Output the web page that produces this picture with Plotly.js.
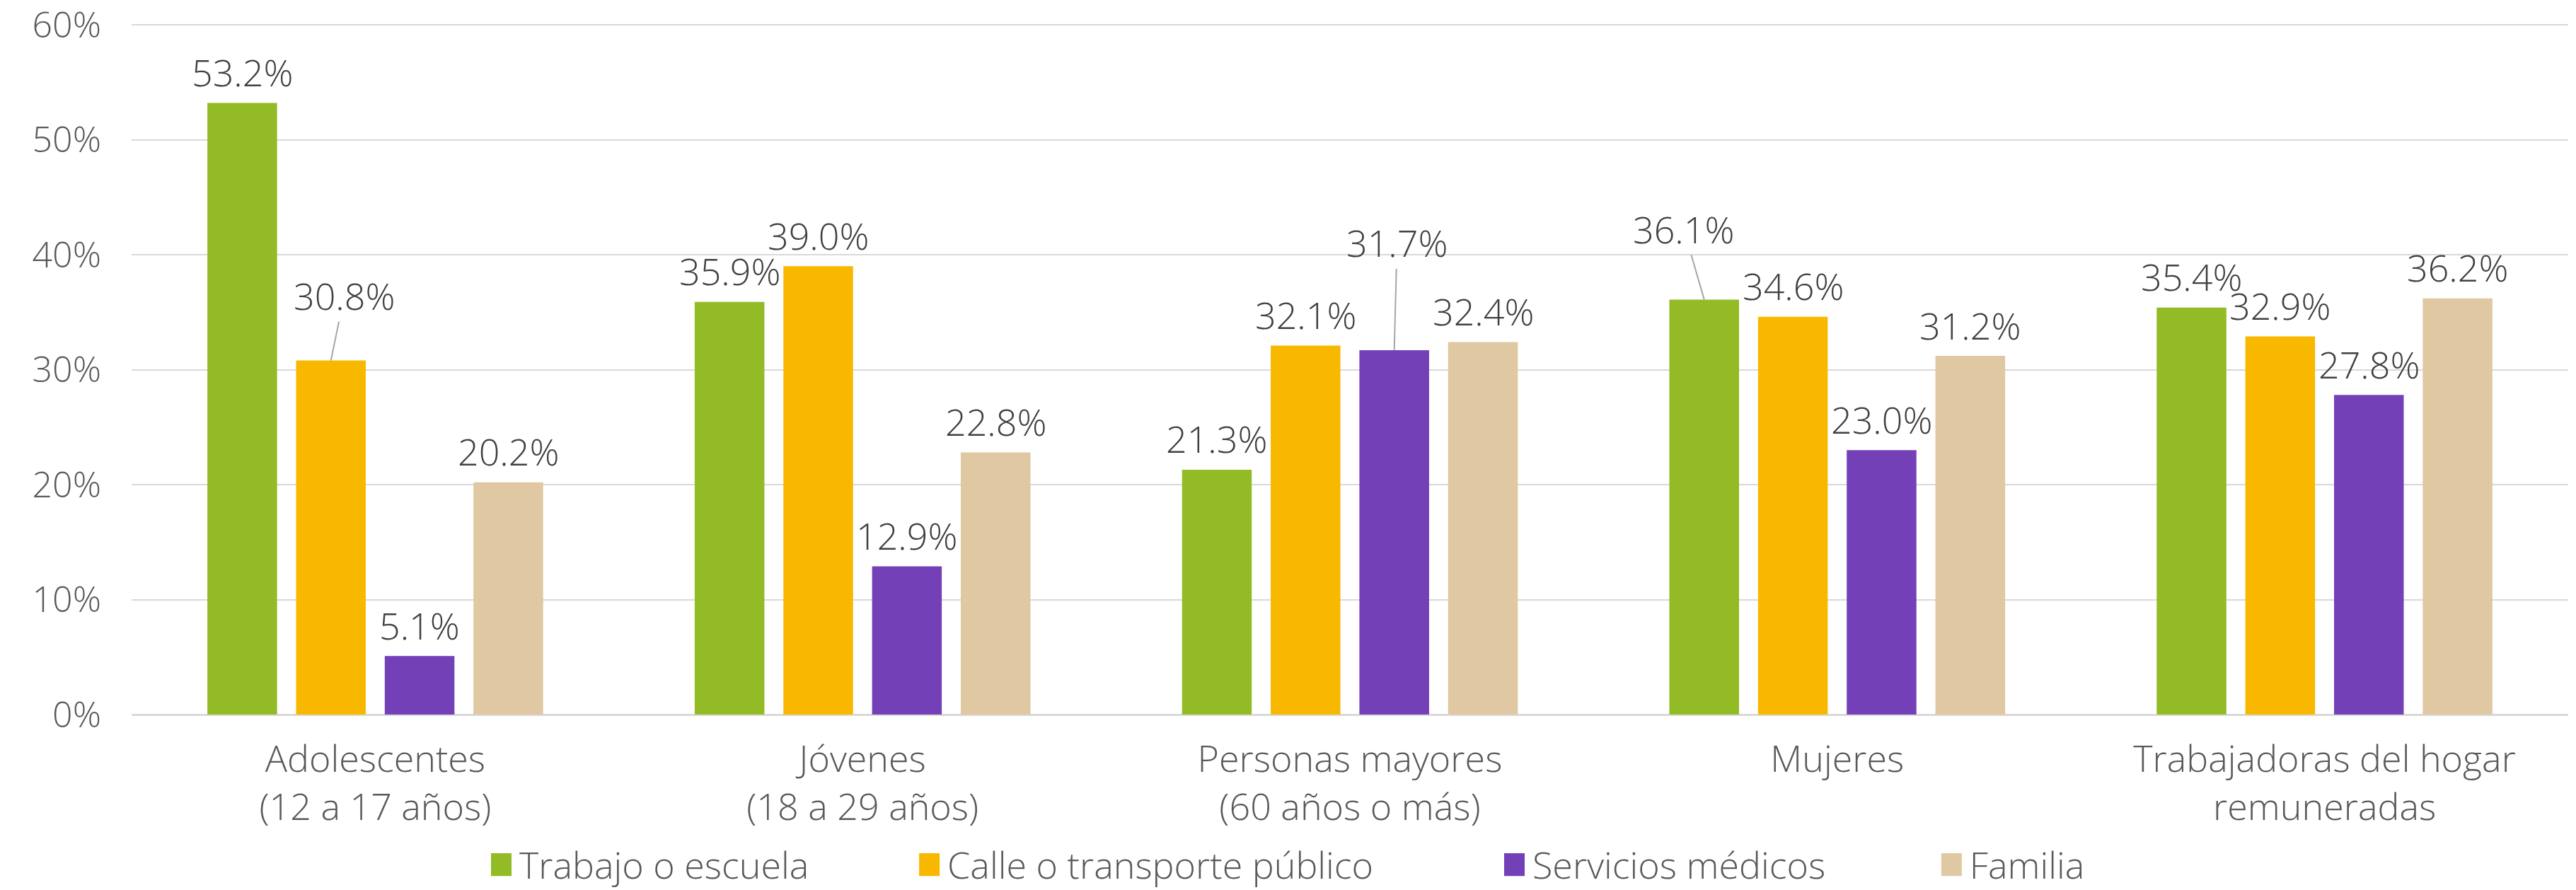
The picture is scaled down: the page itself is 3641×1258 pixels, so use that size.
<!DOCTYPE html>
<html>
<head>
<meta charset="utf-8">
<script src="https://cdn.plot.ly/plotly-3.0.1.min.js"></script>
<style>
  html, body { margin: 0; padding: 0; background: #ffffff; }
  #chart { width: 3641px; height: 1258px; }
</style>
</head>
<body>
<div id="chart"></div>
<script>
// data
var categories = [
    'Adolescentes<br>(12 a 17 años)',
    'Jóvenes<br>(18 a 29 años)',
    'Personas mayores<br>(60 años o más)',
    'Mujeres',
    'Trabajadoras del hogar<br>remuneradas'
];
var seriesNames = ['Trabajo o escuela', 'Calle o transporte público', 'Servicios médicos', 'Familia'];
var trabajo = [53.2, 35.9, 21.3, 36.1, 35.4];
var calle = [30.8, 39.0, 32.1, 34.6, 32.9];
var servicios = [5.1, 12.9, 31.7, 23.0, 27.8];
var familia = [20.2, 22.8, 32.4, 31.2, 36.2];
var yTicks = [0, 10, 20, 30, 40, 50, 60];

// styles
var colors = ['#92BB25', '#F9B800', '#7340B7', '#DFC8A2'];
var fontFamily = '"Open Sans", "Noto Sans", sans-serif';
var slot = 0.182;      // share of a category taken by one bar slot
var barWidth = 0.143;
var labelLift = 44;    // px between bar top and label centre
// labels that Excel moved away from their bar: [series, category, dx, dy]
var movedLabels = [[1, 0, 19, -92], [2, 2, 4, -152], [0, 3, -29, -100]];
var legendX = [0.1475, 0.3232, 0.5633, 0.7427];

function createBarChart() {
    var allValues = [trabajo, calle, servicios, familia];
    var data = [];
    var annotations = [];

    for (var s = 0; s < allValues.length; s++) {
        var xs = [];
        for (var i = 0; i < categories.length; i++) {
            xs.push(i + (s - 1.5) * slot);
        }
        data.push({
            type: 'bar',
            name: seriesNames[s],
            x: xs,
            y: allValues[s],
            width: barWidth,
            marker: { color: colors[s] },
            legend: s === 0 ? 'legend' : 'legend' + (s + 1),
            hoverinfo: 'skip'
        });

        for (var j = 0; j < categories.length; j++) {
            var moved = null;
            for (var k = 0; k < movedLabels.length; k++) {
                if (movedLabels[k][0] === s && movedLabels[k][1] === j) {
                    moved = movedLabels[k];
                }
            }
            var ann = {
                x: xs[j],
                y: allValues[s][j],
                xref: 'x',
                yref: 'y',
                text: allValues[s][j].toFixed(1) + '%',
                font: { family: fontFamily, size: 52, color: '#404040', weight: 300 }
            };
            if (moved) {
                ann.showarrow = true;
                ann.arrowhead = 0;
                ann.arrowwidth = 2;
                ann.arrowcolor = '#a6a6a6';
                ann.standoff = 0;
                ann.ax = moved[2];
                ann.ay = moved[3];
            } else {
                ann.showarrow = false;
                ann.yanchor = 'middle';
                ann.yshift = labelLift;
            }
            annotations.push(ann);
        }
    }

    var legendBase = {
        orientation: 'h',
        xanchor: 'left',
        yanchor: 'bottom',
        y: -0.2544,
        bgcolor: 'rgba(0,0,0,0)',
        font: { family: fontFamily, size: 52, color: '#595959', weight: 300 }
    };
    var layout = {
        width: 3641,
        height: 1258,
        paper_bgcolor: '#ffffff',
        plot_bgcolor: '#ffffff',
        margin: { l: 186, r: 11, t: 16, b: 248, autoexpand: false },
        barmode: 'overlay',
        showlegend: true,
        font: { family: fontFamily, size: 52, color: '#595959', weight: 300 },
        xaxis: {
            range: [-0.5, 4.5],
            tickvals: [0, 1, 2, 3, 4],
            ticktext: categories,
            showgrid: false,
            zeroline: false,
            showline: false,
            ticks: '',
            ticklabelstandoff: 28,
            tickfont: { family: fontFamily, size: 52, color: '#595959', weight: 300 }
        },
        yaxis: {
            range: [0, 61.17],
            tickvals: yTicks,
            ticktext: yTicks.map(function (v) { return v + '%'; }),
            showgrid: true,
            gridcolor: '#d9d9d9',
            gridwidth: 2,
            zeroline: true,
            zerolinecolor: '#d9d9d9',
            zerolinewidth: 3,
            ticks: '',
            ticklabelstandoff: 42,
            ticklabeloverflow: 'allow',
            tickfont: { family: fontFamily, size: 50, color: '#595959', weight: 300 }
        },
        annotations: annotations
    };
    layout.legend = Object.assign({}, legendBase, { x: legendX[0] });
    layout.legend2 = Object.assign({}, legendBase, { x: legendX[1] });
    layout.legend3 = Object.assign({}, legendBase, { x: legendX[2] });
    layout.legend4 = Object.assign({}, legendBase, { x: legendX[3] });

    Plotly.newPlot('chart', data, layout, { staticPlot: true }).then(function (gd) {
        // Excel draws bigger legend keys than Plotly does
        gd.querySelectorAll('.legendpoints path').forEach(function (p) {
            var t = p.getAttribute('transform') || '';
            p.setAttribute('transform', t + ' translate(-6,0) scale(2.5,2.7)');
        });
    });
}

createBarChart();
</script>
</body>
</html>
